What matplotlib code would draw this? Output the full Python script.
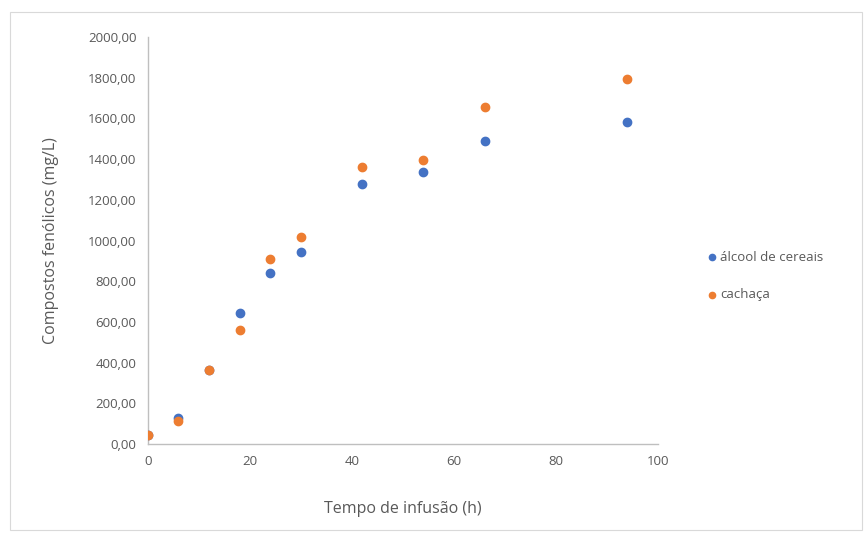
import matplotlib
matplotlib.use("Agg")
import matplotlib.pyplot as plt
from matplotlib.ticker import FuncFormatter, MultipleLocator
from matplotlib.patches import Rectangle

plt.rcParams['font.family'] = ['Open Sans', 'DejaVu Sans']

tempo = [0, 6, 12, 18, 24, 30, 42, 54, 66, 94]
alcool = [45, 128, 365, 644, 840, 944, 1278, 1337, 1489, 1582]
cachaca = [45, 113, 365, 560, 909, 1017, 1361, 1396, 1656, 1794]
series_labels = ["álcool de cereais", "cachaça"]

text_color = "#595959"
axis_color = "#bfbfbf"

fig = plt.figure(figsize=(8.64, 5.34), dpi=100)
fig.patches.append(Rectangle((0.012, 0.008), 0.986, 0.97, transform=fig.transFigure,
                             fill=False, edgecolor="#d9d9d9", linewidth=0.8))
ax = fig.add_axes([0.171, 0.1685, 0.5906, 0.7622])

ax.scatter(tempo, alcool, s=36, color="#4472c4", label=series_labels[0], zorder=3)
ax.scatter(tempo, cachaca, s=36, color="#ed7d31", label=series_labels[1], zorder=3)

ax.set_xlim(0, 100)
ax.set_ylim(0, 2000)
ax.xaxis.set_major_locator(MultipleLocator(20))
ax.yaxis.set_major_locator(MultipleLocator(200))
ax.yaxis.set_major_formatter(FuncFormatter(lambda v, p: f"{v:.2f}".replace(".", ",")))

for side in ("top", "right"):
    ax.spines[side].set_visible(False)
for side in ("left", "bottom"):
    ax.spines[side].set_color(axis_color)
    ax.spines[side].set_linewidth(1.0)

ax.tick_params(axis="both", length=0, labelsize=9.5, colors=text_color, pad=8)

ax.set_xlabel("Tempo de infusão (h)", fontsize=11.5, color=text_color, labelpad=24)
ax.set_ylabel("Compostos fenólicos (mg/L)", fontsize=11.5, color=text_color, labelpad=21)

leg = ax.legend(loc="center left", bbox_to_anchor=(1.07, 0.413), frameon=False,
                fontsize=9.5, handletextpad=0.1, labelspacing=1.85, markerscale=0.75,
                handlelength=1.0)
for t in leg.get_texts():
    t.set_color(text_color)

fig.savefig("out.png", dpi=100)
